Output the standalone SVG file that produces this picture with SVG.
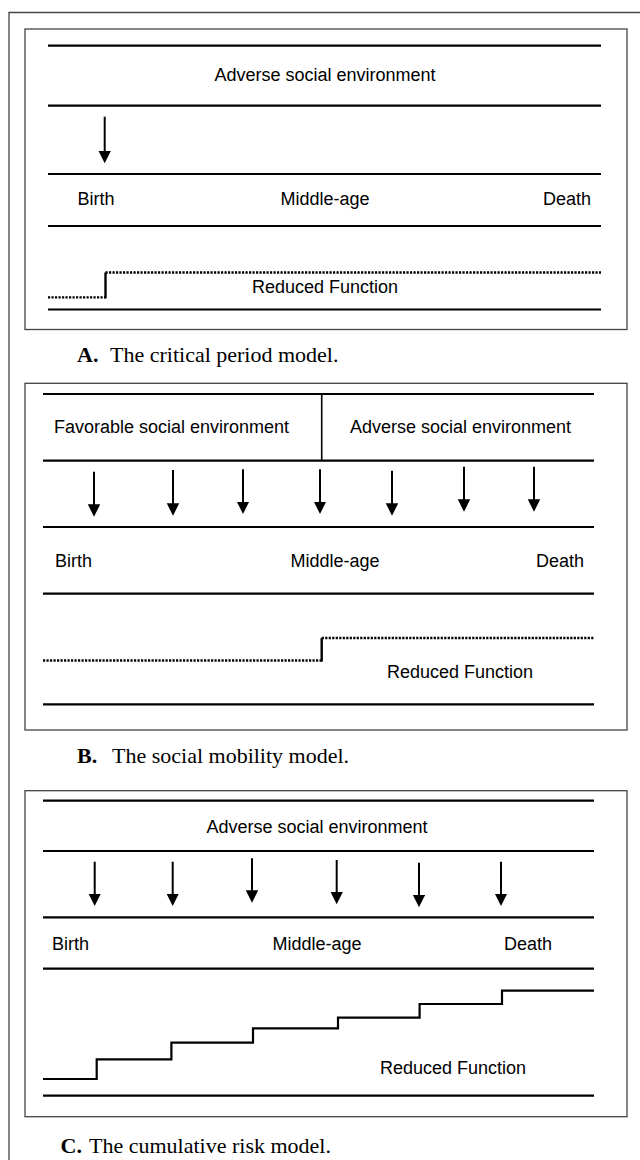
<svg xmlns="http://www.w3.org/2000/svg" width="640" height="1160" viewBox="0 0 640 1160">
  <style>
    .frame { fill: none; stroke: #444; stroke-width: 1.3; }
    .rule { stroke: #000; stroke-width: 2.2; fill: none; }
    .dot { stroke: #000; stroke-width: 2.3; stroke-dasharray: 2.2 1.3; fill: none; }
    .solid { stroke: #000; stroke-width: 2.4; fill: none; }
    .stair { stroke: #000; stroke-width: 2.2; fill: none; stroke-linejoin: miter; }
    .arrow { stroke: #000; stroke-width: 2; marker-end: url(#head); }
    .lbl { font-family: "Liberation Sans", Arial, sans-serif; font-size: 18px; fill: #000; }
    .cap { font-family: "Liberation Serif", "Times New Roman", serif; font-size: 22px; fill: #000; }
    .b { font-weight: bold; }
  </style>
  <defs>
    <marker id="head" markerUnits="userSpaceOnUse" markerWidth="13" markerHeight="13" refX="2.5" refY="6.25" orient="auto">
      <path d="M0,0 L12.5,6.25 L0,12.5 Z" fill="#000"/>
    </marker>
  </defs>
  <rect width="640" height="1160" fill="#fff"/>
  <path class="frame" d="M9,1160 V12.5 H640"/>

  <!-- Panel A -->
  <g id="panelA">
    <rect class="frame" x="25" y="29" width="602" height="300.5"/>
    <g id="A-rules">
      <line class="rule" x1="48" y1="45.7" x2="601" y2="45.7"/>
      <line class="rule" x1="48" y1="105.7" x2="601" y2="105.7"/>
      <line class="rule" x1="48" y1="174" x2="601" y2="174"/>
      <line class="rule" x1="48" y1="226" x2="601" y2="226"/>
      <line class="rule" x1="48" y1="309.5" x2="601" y2="309.5"/>
    </g>
    <g id="A-env"><text class="lbl" x="325" y="81" text-anchor="middle">Adverse social environment</text></g>
    <g id="A-birth"><text class="lbl" x="77.5" y="205">Birth</text></g>
    <g id="A-middle"><text class="lbl" x="325" y="205" text-anchor="middle">Middle-age</text></g>
    <g id="A-death"><text class="lbl" x="591" y="205" text-anchor="end">Death</text></g>
    <g id="A-function">
      <path class="dot" d="M48,297.3 H105.5"/>
      <path class="solid" d="M105.5,298.4 V272.5"/>
      <path class="dot" d="M105.5,272.5 H601"/>
      <text class="lbl" x="325" y="293" text-anchor="middle">Reduced Function</text>
    </g>
    <g id="A-caption"><text class="cap" x="77" y="361.7"><tspan class="b">A.</tspan><tspan x="110">The critical period model.</tspan></text></g>
  </g>

  <!-- Panel B -->
  <g id="panelB">
    <rect class="frame" x="25" y="383.3" width="602" height="346.7"/>
    <g id="B-rules">
      <line class="rule" x1="43" y1="394" x2="594" y2="394"/>
      <line class="rule" x1="43" y1="460.7" x2="594" y2="460.7"/>
      <line class="rule" x1="43" y1="527" x2="594" y2="527"/>
      <line class="rule" x1="43" y1="593.7" x2="594" y2="593.7"/>
      <line class="rule" x1="43" y1="704.3" x2="594" y2="704.3"/>
      <line stroke="#000" stroke-width="1.6" x1="321.7" y1="394" x2="321.7" y2="460.7"/>
    </g>
    <g id="B-favorable"><text class="lbl" x="54" y="433">Favorable social environment</text></g>
    <g id="B-adverse"><text class="lbl" x="350" y="433">Adverse social environment</text></g>
    <g id="B-birth"><text class="lbl" x="55" y="567">Birth</text></g>
    <g id="B-middle"><text class="lbl" x="335" y="567" text-anchor="middle">Middle-age</text></g>
    <g id="B-death"><text class="lbl" x="584" y="567" text-anchor="end">Death</text></g>
    <g id="B-function">
      <path class="dot" d="M43,660.5 H321.7"/>
      <path class="solid" d="M321.7,661.6 V638"/>
      <path class="dot" d="M321.7,638 H594"/>
      <text class="lbl" x="387" y="677.7">Reduced Function</text>
    </g>
    <g id="B-caption"><text class="cap" x="77" y="763"><tspan class="b">B.</tspan><tspan x="112">The social mobility model.</tspan></text></g>
  </g>

  <!-- Panel C -->
  <g id="panelC">
    <rect class="frame" x="25" y="790.7" width="602" height="326"/>
    <g id="C-rules">
      <line class="rule" x1="43" y1="800.7" x2="594" y2="800.7"/>
      <line class="rule" x1="43" y1="851" x2="594" y2="851"/>
      <line class="rule" x1="43" y1="917.3" x2="594" y2="917.3"/>
      <line class="rule" x1="43" y1="968.7" x2="594" y2="968.7"/>
      <line class="rule" x1="43" y1="1095.7" x2="594" y2="1095.7"/>
    </g>
    <g id="C-env"><text class="lbl" x="317" y="833" text-anchor="middle">Adverse social environment</text></g>
    <g id="C-birth"><text class="lbl" x="52" y="950">Birth</text></g>
    <g id="C-middle"><text class="lbl" x="317" y="950" text-anchor="middle">Middle-age</text></g>
    <g id="C-death"><text class="lbl" x="552" y="950" text-anchor="end">Death</text></g>
    <g id="C-function">
      <path class="stair" d="M43,1079 H96.7 V1059.3 H171.4 V1042.7 H253 V1028.3 H338 V1017.7 H419.6 V1004 H502 V990.7 H594"/>
      <text class="lbl" x="380" y="1074">Reduced Function</text>
    </g>
    <g id="C-caption"><text class="cap" x="60.5" y="1153.3"><tspan class="b">C.</tspan><tspan x="89">The cumulative risk model.</tspan></text></g>
  </g>

  <!-- Connectors -->
  <g id="connectors">
    <line class="arrow" x1="104.7" y1="116.7" x2="104.7" y2="153.3"/>

    <line class="arrow" x1="94" y1="471.7" x2="94" y2="506.7"/>
    <line class="arrow" x1="173" y1="470" x2="173" y2="505.7"/>
    <line class="arrow" x1="243" y1="469.3" x2="243" y2="504"/>
    <line class="arrow" x1="320" y1="469.3" x2="320" y2="504"/>
    <line class="arrow" x1="392" y1="470.7" x2="392" y2="505.7"/>
    <line class="arrow" x1="464" y1="466.7" x2="464" y2="501.7"/>
    <line class="arrow" x1="534" y1="466.7" x2="534" y2="501.7"/>

    <line class="arrow" x1="94.7" y1="861.7" x2="94.7" y2="896"/>
    <line class="arrow" x1="172.7" y1="861.7" x2="172.7" y2="896"/>
    <line class="arrow" x1="252" y1="858.3" x2="252" y2="892.7"/>
    <line class="arrow" x1="336.7" y1="860" x2="336.7" y2="894.3"/>
    <line class="arrow" x1="419" y1="862.7" x2="419" y2="897.3"/>
    <line class="arrow" x1="501" y1="861.7" x2="501" y2="896"/>
  </g>
</svg>
